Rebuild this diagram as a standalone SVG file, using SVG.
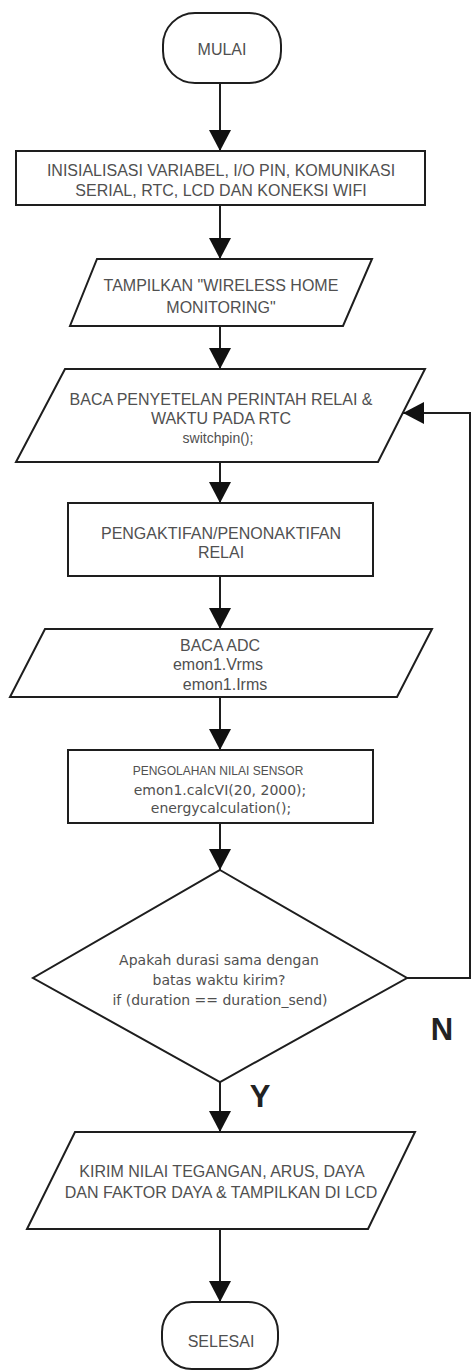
<svg xmlns="http://www.w3.org/2000/svg" width="472" height="1371" viewBox="0 0 472 1371">
<style>
.s{fill:#fff;stroke:#1e1e1e;stroke-width:2}
.t{font-family:"Liberation Sans",Arial,sans-serif;font-size:16px;fill:#505050;text-anchor:middle}
.c{font-family:"DejaVu Sans",Verdana,sans-serif;font-size:14px;fill:#505050;text-anchor:middle}
.sm{font-family:"Liberation Sans",Arial,sans-serif;font-size:12px;fill:#505050;text-anchor:middle}
.lb{font-family:"Liberation Sans",Arial,sans-serif;font-size:31px;font-weight:bold;fill:#222;text-anchor:middle}
.e{fill:none;stroke:#1e1e1e;stroke-width:2}
</style>
<defs>
<marker id="ah" markerUnits="userSpaceOnUse" markerWidth="22" markerHeight="22" viewBox="0 0 22 22" refX="21" refY="11" orient="auto">
<path d="M0,0 L21,11 L0,22 Z" fill="#111"/>
</marker>
</defs>
<rect width="472" height="1371" fill="#fff"/>
<g id="connectors">
<path class="e" d="M220,83 V151" marker-end="url(#ah)"/>
<path class="e" d="M220,205 V259" marker-end="url(#ah)"/>
<path class="e" d="M220,326 V369" marker-end="url(#ah)"/>
<path class="e" d="M220,462 V503" marker-end="url(#ah)"/>
<path class="e" d="M220,576 V629" marker-end="url(#ah)"/>
<path class="e" d="M220,697 V750" marker-end="url(#ah)"/>
<path class="e" d="M220,823 V870" marker-end="url(#ah)"/>
<path class="e" d="M220,1082 V1132" marker-end="url(#ah)"/>
<path class="e" d="M220,1229 V1302" marker-end="url(#ah)"/>
<path class="e" d="M407,978 H470 V413 H403" marker-end="url(#ah)"/>
<text class="lb" x="442" y="1040">N</text>
<text class="lb" x="260" y="1107">Y</text>
</g>
<g id="start">
<rect class="s" x="163" y="13" width="118" height="70" rx="32" ry="32"/>
<text class="t" x="222" y="55">MULAI</text>
</g>
<g id="init">
<rect class="s" x="16" y="151" width="409" height="54"/>
<text class="t" x="221" y="176">INISIALISASI VARIABEL, I/O PIN, KOMUNIKASI</text>
<text class="t" x="221" y="196">SERIAL, RTC, LCD DAN KONEKSI WIFI</text>
</g>
<g id="display">
<polygon class="s" points="97,259 372,259 343,326 70,326"/>
<text class="t" x="221" y="291">TAMPILKAN "WIRELESS HOME</text>
<text class="t" x="221" y="313">MONITORING"</text>
</g>
<g id="readrtc">
<polygon class="s" points="65,369 425,369 378,462 16,462"/>
<text class="t" x="221" y="405">BACA PENYETELAN PERINTAH RELAI &amp;</text>
<text class="t" x="221" y="424">WAKTU PADA RTC</text>
<text class="t" x="218" y="443" style="font-size:14px">switchpin();</text>
</g>
<g id="relay">
<rect class="s" x="68" y="503" width="305" height="73"/>
<text class="t" x="221" y="539">PENGAKTIFAN/PENONAKTIFAN</text>
<text class="t" x="221" y="558">RELAI</text>
</g>
<g id="readadc">
<polygon class="s" points="45,629 432,629 397,697 10,697"/>
<text class="t" x="220" y="651">BACA ADC</text>
<text class="t" x="218" y="670">emon1.Vrms</text>
<text class="t" x="225" y="690">emon1.Irms</text>
</g>
<g id="process">
<rect class="s" x="68" y="750" width="305" height="73"/>
<text class="sm" x="218" y="775">PENGOLAHAN NILAI SENSOR</text>
<text class="c" x="220" y="795">emon1.calcVI(20, 2000);</text>
<text class="c" x="221" y="813">energycalculation();</text>
</g>
<g id="decision">
<polygon class="s" points="220,870 407,978 220,1082 33,978"/>
<text class="c" x="219" y="965">Apakah durasi sama dengan</text>
<text class="c" x="219" y="985">batas waktu kirim?</text>
<text class="c" x="220" y="1005">if (duration == duration_send)</text>
</g>
<g id="send">
<polygon class="s" points="75,1132 415,1132 368,1229 27,1229"/>
<text class="t" x="222" y="1177">KIRIM NILAI TEGANGAN, ARUS, DAYA</text>
<text class="t" x="221" y="1198">DAN FAKTOR DAYA &amp; TAMPILKAN DI LCD</text>
</g>
<g id="end">
<rect class="s" x="162" y="1302" width="116" height="67" rx="30" ry="30"/>
<text class="t" x="221" y="1347">SELESAI</text>
</g>
</svg>
